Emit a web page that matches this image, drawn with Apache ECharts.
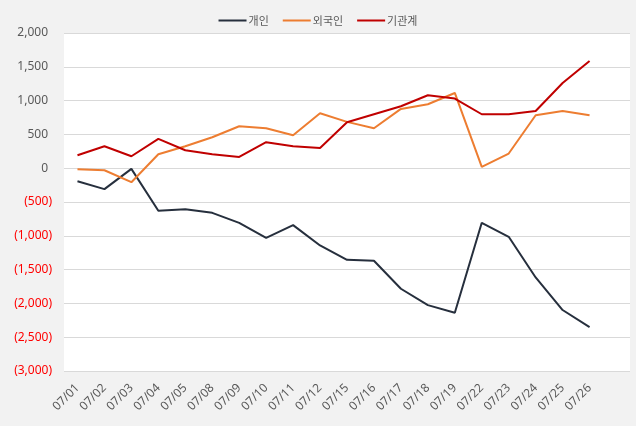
<!DOCTYPE html>
<html><head><meta charset="utf-8">
<script src="https://cdn.jsdelivr.net/npm/echarts@6/dist/echarts.min.js"></script>
<style>html,body{margin:0;padding:0;background:#f2f2f2}#c{width:636px;height:426px}</style>
</head><body><div id="c"></div>
<script>
const categories = ['07/01','07/02','07/03','07/04','07/05','07/08','07/09','07/10','07/11','07/12','07/15','07/16','07/17','07/18','07/19','07/22','07/23','07/24','07/25','07/26',''];
const individual = [-192,-310,-10,-630,-606,-660,-808,-1030,-842,-1143,-1355,-1369,-1783,-2025,-2138,-808,-1015,-1616,-2098,-2350];
const foreign = [-15,-30,-207,207,325,458,621,591,488,813,685,591,877,946,1113,20,217,783,847,783];
const institution = [192,325,177,433,266,207,167,384,325,300,680,798,916,1079,1030,798,798,847,1261,1586];
const seriesNames = ['개인','외국인','기관계'];
const colors = ['#262f3d','#ed7d31','#c00000'];

const font = "'Noto Sans','Noto Sans CJK KR',sans-serif";
const cjk = "'Noto Sans CJK KR',sans-serif";
const chart = echarts.init(document.getElementById('c'));
chart.setOption({
  backgroundColor:'#f2f2f2',
  animation:false,
  textStyle:{fontFamily:font},
  legend:{
    top:10, left:'center', icon:'rect', itemWidth:28, itemHeight:2, itemGap:14,
    textStyle:{color:'#595959', fontSize:11, fontFamily:cjk, padding:[0,0,0,-3]},
    data:seriesNames
  },
  grid:{left:64, right:6, top:33, bottom:55, show:true, backgroundColor:'#ffffff', borderWidth:0},
  xAxis:{
    type:'category', data:categories, boundaryGap:true,
    axisLine:{show:false}, axisTick:{show:false},
    axisLabel:{interval:0, rotate:45, color:'#595959', fontSize:12, margin:15, fontFamily:font}
  },
  yAxis:{
    type:'value', min:-3000, max:2000, interval:500,
    axisLine:{show:false}, axisTick:{show:false},
    splitLine:{lineStyle:{color:'#d9d9d9', width:1}},
    axisLabel:{
      margin:12, fontSize:12, fontFamily:font,
      formatter:function(v){
        const s = Math.abs(v).toLocaleString('en-US');
        if (v < 0) return '{n|(' + s + ')}';
        return '{p|' + s + '}';
      },
      rich:{
        p:{color:'#595959', fontSize:12, padding:[0,4,0,0], fontFamily:font},
        n:{color:'#ff0000', fontSize:12, fontFamily:font}
      }
    }
  },
  series:[
    {name:seriesNames[0], type:'line', data:individual, showSymbol:false, lineStyle:{width:2, color:colors[0]}, itemStyle:{color:colors[0]}},
    {name:seriesNames[1], type:'line', data:foreign, showSymbol:false, lineStyle:{width:2, color:colors[1]}, itemStyle:{color:colors[1]}},
    {name:seriesNames[2], type:'line', data:institution, showSymbol:false, lineStyle:{width:2, color:colors[2]}, itemStyle:{color:colors[2]}}
  ]
});
</script></body></html>
